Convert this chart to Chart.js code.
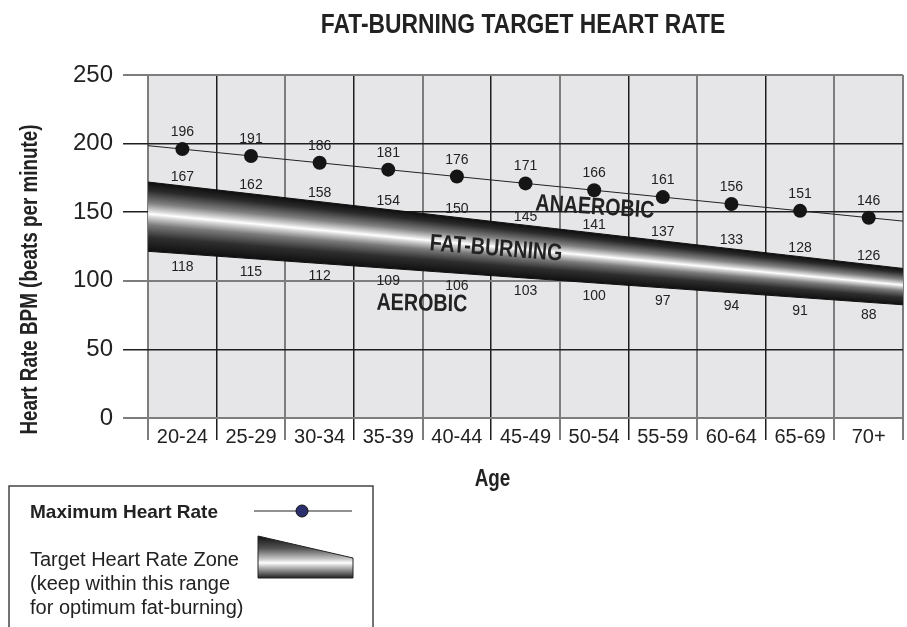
<!DOCTYPE html>
<html>
<head>
<meta charset="utf-8">
<script src="https://cdn.jsdelivr.net/npm/chart.js@4.4.1/dist/chart.umd.min.js"></script>
<style>
html,body{margin:0;padding:0;background:#fff;overflow:hidden;}
#wrap{position:relative;width:907px;height:627px;overflow:hidden;}
#c{position:absolute;left:0;top:0;}
#legendShapes{position:absolute;left:0;top:0;}
.lg{position:absolute;white-space:nowrap;line-height:1;color:#222;font-family:"Liberation Sans",Arial,sans-serif;}
</style>
</head>
<body>
<div id="wrap">
<canvas id="c" width="907" height="627"></canvas>
<svg id="legendShapes" width="907" height="627" viewBox="0 0 907 627">
  <defs>
    <linearGradient id="zoneGrad" x1="0" y1="0" x2="0" y2="1">
      <stop offset="0" stop-color="#111"/>
      <stop offset="0.3" stop-color="#555"/>
      <stop offset="0.55" stop-color="#c8c8c8"/>
      <stop offset="0.64" stop-color="#fff"/>
      <stop offset="0.74" stop-color="#bbb"/>
      <stop offset="1" stop-color="#222"/>
    </linearGradient>
  </defs>
  <rect x="9" y="486" width="364" height="170" fill="none" stroke="#444" stroke-width="1.5"/>
  <line x1="254" y1="511" x2="352" y2="511" stroke="#222" stroke-width="1"/>
  <circle cx="302" cy="511" r="6" fill="#2c2f6e" stroke="#111" stroke-width="1"/>
  <polygon points="258,536 353,558 353,578 258,578" fill="url(#zoneGrad)" stroke="#222" stroke-width="1"/>
</svg>
<div class="lg" style="left:30px;top:501.7px;font-size:19px;font-weight:bold;">Maximum Heart Rate</div>
<div class="lg" style="left:30px;top:549px;font-size:20px;">Target Heart Rate Zone</div>
<div class="lg" style="left:30px;top:573px;font-size:20px;">(keep within this range</div>
<div class="lg" style="left:30px;top:597px;font-size:20px;">for optimum fat-burning)</div>
</div>
<script>
// ---------------- data ----------------
const categories = ['20-24','25-29','30-34','35-39','40-44','45-49','50-54','55-59','60-64','65-69','70+'];
const maxHeartRate = [196,191,186,181,176,171,166,161,156,151,146];
const zoneUpperLabels = [167,162,158,154,150,145,141,137,133,128,126];
const zoneLowerLabels = [118,115,112,109,106,103,100,97,94,91,88];
// values read where the lines meet the left and right plot edges
const maxTrendAtEdges = [198.5,143.5];
const zoneTopAtEdges = [172,109];
const zoneBottomAtEdges = [121.5,82.5];
const yTicks = [0,50,100,150,200,250];

// ---------------- styles ----------------
const SANS = '"Liberation Sans",Arial,sans-serif';
const NARROW_SCALE = 0.82;
const GRAY = '#7d7d7d', BLACK = '#1e1e1e', INK = '#222';
const yGridColors = {0:GRAY,50:BLACK,100:GRAY,150:BLACK,200:BLACK,250:GRAY};
const edgeX = [-0.5, categories.length - 0.5];
const annotations = [
  {text:'ANAEROBIC', x:6.01, y:153.4, rot:3.5},
  {text:'FAT-BURNING', x:4.57, y:123.2, rot:4.5},
  {text:'AEROBIC', x:3.49, y:83.1, rot:1}
];

const bandStops = [
  [0,'#0e0e0e'],[0.12,'#2a2a2a'],[0.3,'#808080'],[0.41,'#d4d4d4'],
  [0.46,'#ffffff'],[0.5,'#d8d8d8'],[0.62,'#7a7a7a'],[0.8,'#2e2e2e'],[1,'#101010']
];

function narrowText(ctx,text,x,y,size,rotDeg,baseline,sx){
  ctx.save();
  ctx.translate(x,y);
  ctx.rotate((rotDeg||0)*Math.PI/180);
  ctx.scale(sx||NARROW_SCALE,1);
  ctx.font='bold '+size+'px '+SANS;
  ctx.fillStyle=INK;
  ctx.textAlign='center';
  ctx.textBaseline=baseline||'alphabetic';
  ctx.fillText(text,0,0);
  ctx.restore();
}

const bgPlugin = {
  id:'plotBg',
  beforeDraw(chart){
    const {ctx,chartArea:a}=chart;
    ctx.save(); ctx.fillStyle='#e6e6e8';
    ctx.fillRect(a.left,a.top,a.right-a.left,a.bottom-a.top);
    ctx.restore();
  }
};

function edgeYAt(meta,x){
  const [p,q]=meta.data;
  return p.y+(q.y-p.y)*(x-p.x)/(q.x-p.x);
}

const bandPlugin = {
  id:'zoneBand',
  beforeDatasetsDraw(chart){
    const {ctx,chartArea:a}=chart;
    const topMeta=chart.getDatasetMeta(2), botMeta=chart.getDatasetMeta(3);
    const ptsMeta=chart.getDatasetMeta(0);
    // zone value labels (drawn under the band)
    ctx.save();
    ctx.font='14px '+SANS; ctx.fillStyle=INK; ctx.textAlign='center'; ctx.textBaseline='alphabetic';
    ptsMeta.data.forEach((el,i)=>{
      ctx.fillText(String(zoneUpperLabels[i]), el.x, edgeYAt(topMeta,el.x)-4.5);
      ctx.fillText(String(zoneLowerLabels[i]), el.x, edgeYAt(botMeta,el.x)+17);
    });
    ctx.restore();
    // gradient band between the two zone edges
    const [tl,tr]=topMeta.data, [bl,br]=botMeta.data;
    ctx.save();
    ctx.beginPath(); ctx.rect(a.left,a.top,a.right-a.left,a.bottom-a.top); ctx.clip();
    ctx.beginPath();
    ctx.moveTo(tl.x,tl.y); ctx.lineTo(tr.x,tr.y); ctx.lineTo(br.x,br.y); ctx.lineTo(bl.x,bl.y);
    ctx.closePath(); ctx.clip();
    for(let x=Math.floor(tl.x)-1;x<Math.ceil(tr.x)+1;x++){
      const yt=edgeYAt(topMeta,x+0.5), yb=edgeYAt(botMeta,x+0.5);
      const g=ctx.createLinearGradient(0,yt,0,yb);
      bandStops.forEach(([t,c])=>g.addColorStop(t,c));
      ctx.fillStyle=g;
      ctx.fillRect(x,yt-3,1,yb-yt+6);
    }
    ctx.restore();
  },
  afterDatasetsDraw(chart){
    const {ctx,scales}=chart;
    const ptsMeta=chart.getDatasetMeta(0);
    ctx.save();
    ctx.font='14px '+SANS; ctx.fillStyle=INK; ctx.textAlign='center'; ctx.textBaseline='alphabetic';
    ptsMeta.data.forEach((el,i)=>ctx.fillText(String(maxHeartRate[i]),el.x,el.y-13));
    ctx.restore();
    annotations.forEach(an=>{
      narrowText(ctx,an.text,scales.xl.getPixelForValue(an.x),scales.y.getPixelForValue(an.y),24,an.rot,'middle');
    });
  },
  afterDraw(chart){
    const {ctx,chartArea:a}=chart;
    const cx=(a.left+a.right)/2;
    // chart title
    narrowText(ctx,'FAT-BURNING TARGET HEART RATE',cx-2.5,a.top-42.3,27,0,'alphabetic',0.845);
    // x-axis title
    narrowText(ctx,'Age',cx-33,a.bottom+67.7,23,0);
    // y-axis title
    narrowText(ctx,'Heart Rate BPM (beats per minute)',37,(a.top+a.bottom)/2+33,23,-90);
  }
};

new Chart(document.getElementById('c'),{
  type:'line',
  data:{
    labels:categories,
    datasets:[
      {label:'Maximum Heart Rate',data:maxHeartRate,xAxisID:'x',yAxisID:'y',showLine:false,
       pointRadius:7,pointHoverRadius:7,pointBackgroundColor:'#151515',pointBorderWidth:0,borderColor:'#151515'},
      {label:'Maximum trend',data:edgeX.map((x,i)=>({x,y:maxTrendAtEdges[i]})),xAxisID:'xl',yAxisID:'y',
       borderColor:'#222',borderWidth:1,pointRadius:0,fill:false},
      {label:'Zone top',data:edgeX.map((x,i)=>({x,y:zoneTopAtEdges[i]})),xAxisID:'xl',yAxisID:'y',
       borderColor:'#111',borderWidth:1,pointRadius:0,fill:false},
      {label:'Zone bottom',data:edgeX.map((x,i)=>({x,y:zoneBottomAtEdges[i]})),xAxisID:'xl',yAxisID:'y',
       borderColor:'#111',borderWidth:1,pointRadius:0,fill:false}
    ]
  },
  options:{
    responsive:false,animation:false,devicePixelRatio:1,
    events:[],
    layout:{autoPadding:false,padding:{left:63,right:4,top:75,bottom:161}},
    plugins:{
      legend:{display:false},
      tooltip:{enabled:false},
      title:{display:false}
    },
    scales:{
      x:{type:'category',offset:true,
        grid:{offset:true,tickLength:22,
          color:c=>(c.index===undefined||c.index%2===0)?GRAY:BLACK,
          lineWidth:c=>(c.index===undefined||c.index%2===0)?2:1.5},
        border:{display:false},
        title:{display:true,text:'',font:{size:10},padding:{top:0,bottom:20}},
        ticks:{padding:-15,color:INK,font:{family:SANS,size:20},maxRotation:0,autoSkip:false}},
      xl:{type:'linear',display:false,min:edgeX[0],max:edgeX[1]},
      y:{type:'linear',min:0,max:250,
        afterBuildTicks:s=>{s.ticks=yTicks.map(v=>({value:v}));},
        grid:{tickLength:25,
          color:c=>yGridColors[c.tick?c.tick.value:0]||GRAY,
          lineWidth:c=>(yGridColors[c.tick?c.tick.value:0]===BLACK)?1.5:2},
        border:{display:false},
        ticks:{padding:10,color:INK,font:{family:SANS,size:24}}}
    }
  },
  plugins:[bgPlugin,bandPlugin]
});
</script>
</body>
</html>
